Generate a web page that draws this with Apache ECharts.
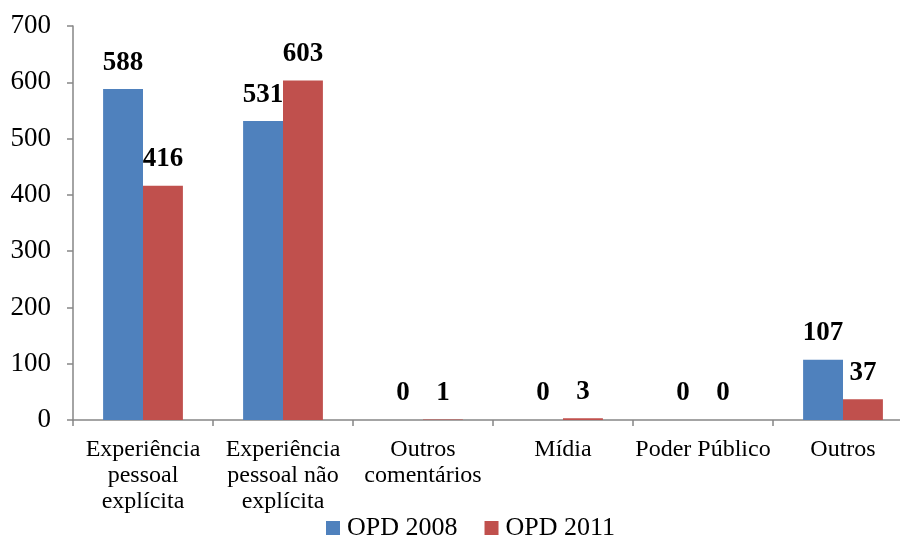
<!DOCTYPE html>
<html>
<head>
<meta charset="utf-8">
<script src="https://cdn.jsdelivr.net/npm/echarts@6/dist/echarts.min.js"></script>
<style>html,body{margin:0;padding:0;background:#fff;}#c{width:900px;height:538px;}</style>
</head>
<body>
<div id="c"></div>
<script>
const categories = ["Experiência\npessoal\nexplícita", "Experiência\npessoal não\nexplícita", "Outros\ncomentários", "Mídia", "Poder Público", "Outros"];
const opd2008 = [588, 531, 0, 0, 0, 107];
const opd2011 = [416, 603, 1, 3, 0, 37];
const yTicks = { min: 0, max: 700, interval: 100 };

const font = '"Liberation Serif", "Times New Roman", serif';
const chart = echarts.init(document.getElementById('c'), null, { renderer: 'canvas' });
const labelCfg = {
  show: true, position: 'top', distance: 13,
  fontFamily: font, fontSize: 27, fontWeight: 'bold', color: '#000'
};
chart.setOption({
  animation: false,
  textStyle: { fontFamily: font },
  grid: { left: 73, top: 26, width: 840, height: 394, outerBoundsMode: 'none', containLabel: false },
  legend: {
    left: 321, top: 510, padding: 5, itemWidth: 14, itemHeight: 14, itemGap: 27,
    icon: 'rect',
    textStyle: { fontFamily: font, fontSize: 26, color: '#000', padding: [0, 0, 0, 2] },
    data: ['OPD 2008', 'OPD 2011']
  },
  xAxis: {
    type: 'category', data: categories,
    axisLine: { lineStyle: { color: '#868686', width: 1.5 } },
    axisTick: { show: true, length: 6, lineStyle: { color: '#868686', width: 1.5 } },
    axisLabel: { interval: 0, margin: 17, fontFamily: font, fontSize: 24, lineHeight: 26, color: '#000' }
  },
  yAxis: {
    type: 'value', min: yTicks.min, max: yTicks.max, interval: yTicks.interval,
    splitLine: { show: false },
    axisLine: { show: true, lineStyle: { color: '#868686', width: 1.5 } },
    axisTick: { show: true, length: 6, lineStyle: { color: '#868686', width: 1.5 } },
    axisLabel: { margin: 22, fontFamily: font, fontSize: 27, color: '#000' }
  },
  series: [
    { name: 'OPD 2008', type: 'bar', data: opd2008, barCategoryGap: '43%', barGap: '0%',
      itemStyle: { color: '#4F81BD' }, label: labelCfg },
    { name: 'OPD 2011', type: 'bar', data: opd2011, barCategoryGap: '43%', barGap: '0%',
      itemStyle: { color: '#C0504D' }, label: labelCfg }
  ]
});
</script>
</body>
</html>
